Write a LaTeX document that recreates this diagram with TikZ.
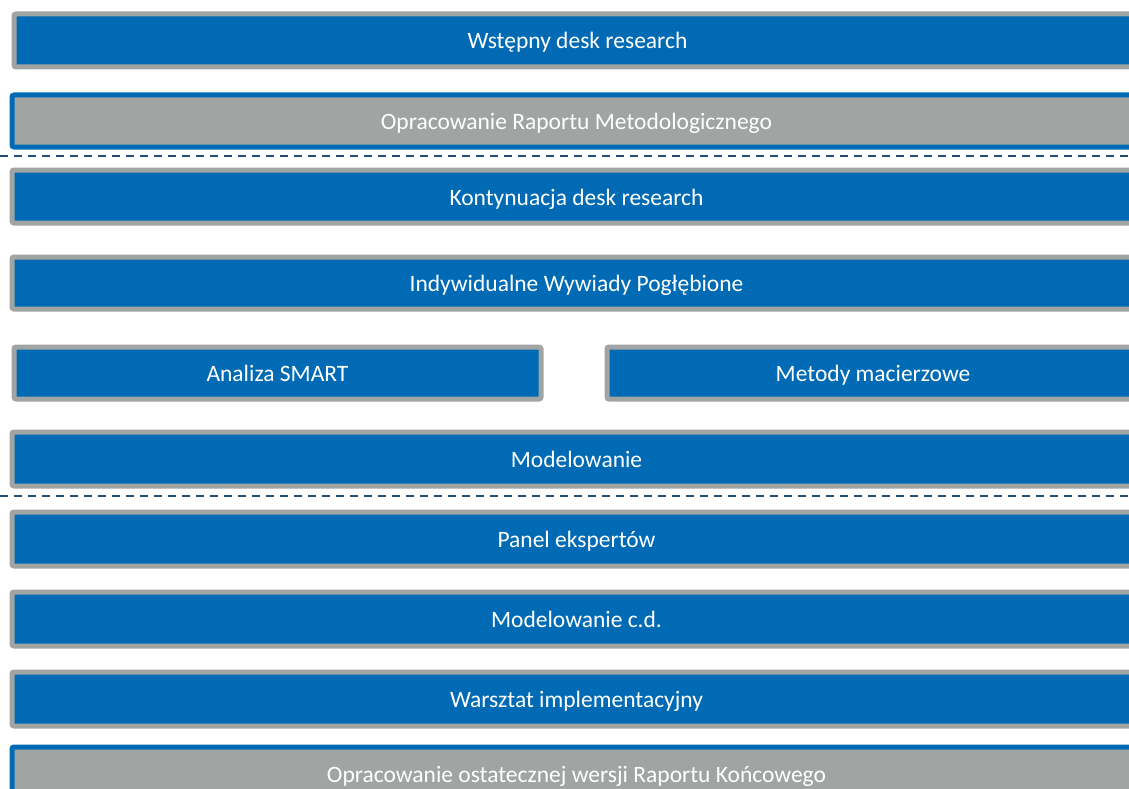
\documentclass[tikz,border=0pt]{standalone}
\usepackage{fontspec}
\setmainfont{Carlito}
\definecolor{azul}{RGB}{0,107,180}
\definecolor{gris}{RGB}{160,165,164}
\definecolor{linea}{RGB}{31,78,121}
\tikzset{
  etapa/.style={rectangle, draw=gris, fill=azul, line width=5pt, rounded corners=2pt,
    text=white, font=\fontsize{23.5}{27}\selectfont, inner sep=0pt,
    text height=21pt, text depth=4pt, anchor=north west},
  informe/.style={etapa, draw=azul, fill=gris},
  corte/.style={linea, line width=2.2pt, dash pattern=on 8pt off 6pt}
}
\begin{document}
\begin{tikzpicture}[x=1pt,y=-1pt]
    % Marco de la imagen
    \useasboundingbox (0,0) rectangle (1129,789);
    \clip (0,0) rectangle (1129,789);

    % Primera fase
    \node[etapa, minimum width=1127pt, minimum height=53pt] (desk) at (11.5,11.5) {Wstępny desk research};
    \node[informe, minimum width=1129pt, minimum height=52pt] (metod) at (9.5,92.5) {Opracowanie Raportu Metodologicznego};

    % Segunda fase
    \node[etapa, minimum width=1129pt, minimum height=53pt] (kont) at (9.5,167.5) {Kontynuacja desk research};
    \node[etapa, minimum width=1129pt, minimum height=52pt] (idi) at (9.5,254.5) {Indywidualne Wywiady Pogłębione};
    \node[etapa, minimum width=527pt, minimum height=52pt] (smart) at (11.5,344.5) {Analiza SMART};
    \node[etapa, minimum width=532pt, minimum height=52pt] (macierz) at (604.5,344.5) {Metody macierzowe};
    \node[etapa, minimum width=1129pt, minimum height=54pt] (model) at (9.5,429.5) {Modelowanie};

    % Tercera fase
    \node[etapa, minimum width=1129pt, minimum height=54pt] (panel) at (9.5,509.5) {Panel ekspertów};
    \node[etapa, minimum width=1129pt, minimum height=54pt] (modelcd) at (9.5,589.5) {Modelowanie c.d.};
    \node[etapa, minimum width=1129pt, minimum height=54pt] (warsztat) at (9.5,669.5) {Warsztat implementacyjny};
    \node[informe, minimum width=1129pt, minimum height=54pt] (koniec) at (9.5,744.5) {Opracowanie ostatecznej wersji Raportu Końcowego};

    % Lineas de separacion
    \coordinate (c1a) at (0,156);
    \coordinate (c1b) at (1129,156);
    \coordinate (c2a) at (0,496);
    \coordinate (c2b) at (1129,496);
    \draw[corte] (c1a) -- (c1b);
    \draw[corte] (c2a) -- (c2b);
\end{tikzpicture}
\end{document}
